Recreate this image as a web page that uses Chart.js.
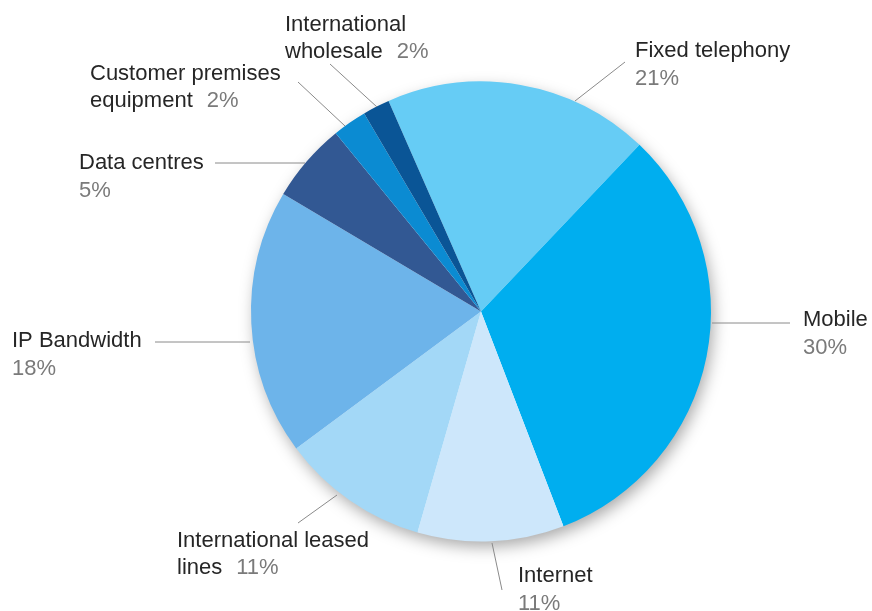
<!DOCTYPE html>
<html>
<head>
<meta charset="utf-8">
<script src="https://cdn.jsdelivr.net/npm/chart.js@4.4.1/dist/chart.umd.min.js"></script>
<style>
  html, body { margin: 0; padding: 0; background: #fff; }
  #wrap { width: 872px; height: 611px; position: relative; }
</style>
</head>
<body>
<div id="wrap"><canvas id="pie"></canvas></div>
<script>
// segment data (shares; labels as printed)
const categories = ['Fixed telephony', 'Mobile', 'Internet', 'International leased lines',
    'IP Bandwidth', 'Data centres', 'Customer premises equipment', 'International wholesale'];
const shares = [18.7, 32.1, 10.3, 10.4, 18.7, 5.6, 2.4, 1.9];
const printedPct = ['21%', '30%', '11%', '11%', '18%', '5%', '2%', '2%'];
const colours = ['#66ccf5', '#00aeef', '#cde7fb', '#a3d8f7', '#6db4ea', '#325893', '#0b8bd2', '#0a5596'];

// label layout: text lines, pct placement, leader line
const labelLayout = [
    { x: 635, lines: ['Fixed telephony'], y: 57, pct: 'below', line: [625, 62, 575, 101] },
    { x: 803, lines: ['Mobile'], y: 326, pct: 'below', line: [790, 323, 712, 323] },
    { x: 518, lines: ['Internet'], y: 582, pct: 'below', line: [502, 590, 492, 543] },
    { x: 177, lines: ['International leased', 'lines'], y: 547, pct: 'inline', line: [298, 523, 337, 495] },
    { x: 12, lines: ['IP Bandwidth'], y: 347, pct: 'below', line: [155, 342, 250, 342] },
    { x: 79, lines: ['Data centres'], y: 169, pct: 'below', line: [215, 163, 305, 163] },
    { x: 90, lines: ['Customer premises', 'equipment'], y: 80, pct: 'inline', line: [298, 82, 345, 126] },
    { x: 285, lines: ['International', 'wholesale'], y: 31, pct: 'inline', line: [330, 64, 377, 107] }
];

const font = '22px "Liberation Sans", Arial, sans-serif';
const lineGap = 27;

// soft drop shadow under the whole pie
const pieShadow = {
    id: 'pieShadow',
    beforeDatasetsDraw(chart) {
        const arc = chart.getDatasetMeta(0).data[0];
        if (!arc) return;
        const ctx = chart.ctx;
        ctx.save();
        ctx.shadowColor = 'rgba(0,0,0,0.35)';
        ctx.shadowBlur = 16;
        ctx.shadowOffsetX = 3;
        ctx.shadowOffsetY = 6;
        ctx.fillStyle = '#ffffff';
        ctx.beginPath();
        ctx.arc(arc.x, arc.y, arc.outerRadius - 1, 0, Math.PI * 2);
        ctx.fill();
        ctx.restore();
    }
};

// outside labels with leader lines
const outsideLabels = {
    id: 'outsideLabels',
    afterDraw(chart) {
        const ctx = chart.ctx;
        ctx.save();
        ctx.font = font;
        ctx.textBaseline = 'alphabetic';
        ctx.textAlign = 'left';
        labelLayout.forEach((l, i) => {
            // leader line
            ctx.strokeStyle = '#8a8a8a';
            ctx.lineWidth = 1;
            ctx.beginPath();
            ctx.moveTo(l.line[0], l.line[1]);
            ctx.lineTo(l.line[2], l.line[3]);
            ctx.stroke();

            ctx.fillStyle = '#262626';
            let y = l.y;
            l.lines.forEach((t, j) => {
                ctx.fillText(t, l.x, y + j * lineGap);
            });
            const lastY = y + (l.lines.length - 1) * lineGap;
            ctx.fillStyle = '#7a7a7a';
            if (l.pct === 'inline') {
                const w = ctx.measureText(l.lines[l.lines.length - 1]).width;
                ctx.fillText(printedPct[i], l.x + w + 14, lastY);
            } else {
                ctx.fillText(printedPct[i], l.x, lastY + 28);
            }
        });
        ctx.restore();
    }
};

new Chart(document.getElementById('pie').getContext('2d'), {
    type: 'pie',
    data: {
        labels: categories,
        datasets: [{
            data: shares,
            backgroundColor: colours,
            borderWidth: 0
        }]
    },
    options: {
        responsive: true,
        maintainAspectRatio: false,
        animation: false,
        rotation: -23.7,
        layout: {
            padding: { top: 81, bottom: 69, left: 251, right: 161 }
        },
        plugins: {
            legend: { display: false },
            tooltip: { enabled: false }
        }
    },
    plugins: [pieShadow, outsideLabels]
});
</script>
</body>
</html>
